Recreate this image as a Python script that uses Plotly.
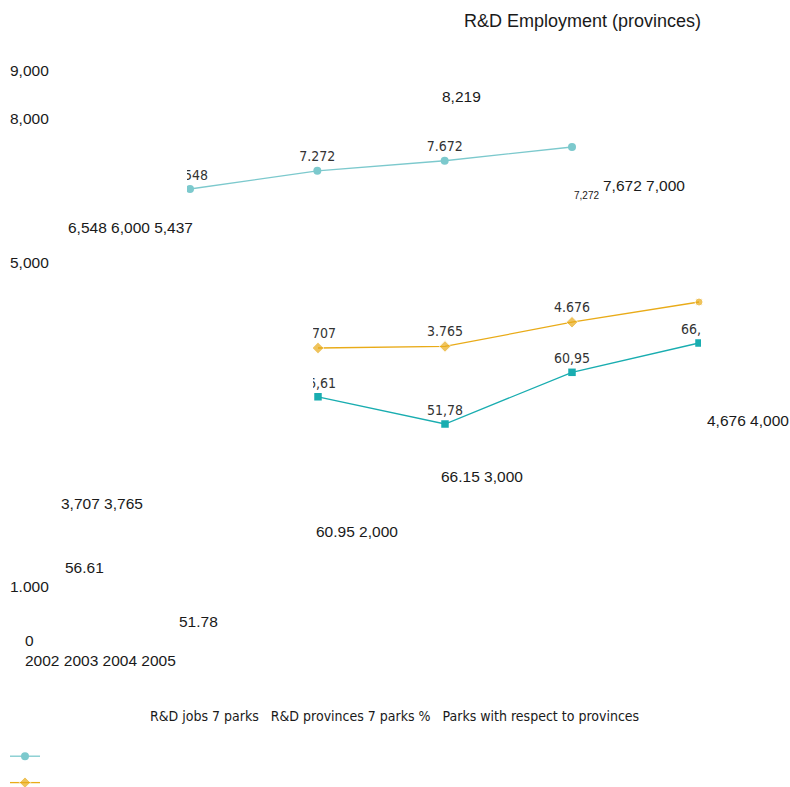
import plotly.graph_objects as go

W, H = 790, 787

# ---- data -------------------------------------------------------------
years = [2002, 2003, 2004, 2005]
jobs_parks = [6548, 7272, 7672, 8219]        # R&D jobs, 7 parks
jobs_provinces = [3707, 3765, 4676, 5437]    # R&D jobs, provinces of the 7 parks
parks_share = [56.61, 51.78, 60.95, 66.15]   # parks with respect to provinces (%)

series_names = ["R&D jobs 7 parks", "R&D provinces 7 parks %",
                "Parks with respect to provinces"]
title_text = "R&D Employment (provinces)"
axis_labels = ["9,000", "8,000", "5,000", "1.000", "0"]
year_labels = ["2002", "2003", "2004", "2005"]
loose_labels = ["8,219", "6,548 6,000 5,437", "7,272", "7,672 7,000",
                "4,676 4,000", "66.15 3,000", "3,707 3,765", "60.95 2,000",
                "56.61", "51.78"]

# ---- layout helpers ---------------------------------------------------
def span(v1, p1, v2, p2, length):
    """Axis range whose ends sit at pixel 0 and `length` when v1->p1, v2->p2."""
    u = (v2 - v1) / (p2 - p1)
    return [v1 - p1 * u, v1 + (length - p1) * u]

# horizontal plot windows (pixels): jobs in parks, share, provinces
win1 = (187, W)
win2 = (313, 701)
win3 = (313, W)

def x_span(win, left_px, right_px):
    return span(years[0], left_px - win[0], years[-1], right_px - win[0], win[1] - win[0])

x1_range = x_span(win1, 190, 572)
x2_range = x_span(win2, 318, 699)
x3_range = x_span(win3, 318, 699)
y1_range = span(jobs_parks[0], H - 189, jobs_parks[-1], H - 147, H)
y2_range = span(jobs_provinces[0], H - 348, jobs_provinces[-1], H - 302, H)
y3_range = span(min(parks_share), H - 424, max(parks_share), H - 343, H)

c_parks = "#7cc9cd"
c_prov = "#e9ab18"
c_share = "#19adb0"
label_font = dict(family="Liberation Sans Narrow, Arial Narrow, DejaVu Sans Condensed, sans-serif",
                  size=14, color="#333333")

# value labels: the last point of the first two series carries none
lbl_int = ["%{y:,}"] * (len(years) - 1) + [""]

fig = go.Figure()

fig.add_trace(go.Scatter(
    x=years, y=jobs_parks, xaxis="x", yaxis="y", name=" ",
    mode="lines+markers+text", texttemplate=lbl_int, textposition="top center",
    textfont=label_font, cliponaxis=True,
    line=dict(color=c_parks, width=1.3),
    marker=dict(symbol="circle", size=8, color=c_parks),
    hovertemplate=series_names[0] + ": %{y:,}<extra></extra>",
))
fig.add_trace(go.Scatter(
    x=years, y=jobs_provinces, xaxis="x3", yaxis="y2", name=" ",
    mode="lines+markers+text", texttemplate=lbl_int, textposition="top center",
    textfont=label_font, cliponaxis=True,
    line=dict(color=c_prov, width=1.3),
    marker=dict(symbol=["diamond", "diamond", "diamond", "circle"], size=[9, 9, 9, 8],
                color=c_prov),
    hovertemplate=series_names[1] + ": %{y:,}<extra></extra>",
))
fig.add_trace(go.Scatter(
    x=years, y=parks_share, xaxis="x2", yaxis="y3", name=" ", showlegend=False,
    mode="lines+markers+text", texttemplate="%{y:,.2f}", textposition="top center",
    textfont=label_font, cliponaxis=True,
    line=dict(color=c_share, width=1.3),
    marker=dict(symbol="square", size=7.5, color=c_share),
    hovertemplate=series_names[2] + ": %{y:,.2f}<extra></extra>",
))

hidden = dict(visible=False, showgrid=False, zeroline=False, fixedrange=True)

# ---- free-standing text ----------------------------------------------
big = dict(family="Liberation Sans, Arial, sans-serif", size=15.5, color="#1a1a1a")
annotations = []

def put(text, px, py, font, anchor="left"):
    annotations.append(dict(text=text, x=px / W, y=1 - py / H, xref="paper", yref="paper",
                            xanchor=anchor, yanchor="middle", showarrow=False,
                            font=font, borderpad=0))

put(title_text, 463, 21, dict(big, size=18))

for txt, py in zip(axis_labels[:4], [70, 119, 262, 586]):
    put(txt, 9, py, big)
put(axis_labels[4], 24, 640, big)
put(" ".join(year_labels), 24, 660, big)

loose_spots = [(441, 96), (67, 227), (573, 195), (602, 186), (706, 421),
               (440, 476), (60, 503), (315, 531), (64, 567), (178, 621)]
for txt, (px, py) in zip(loose_labels, loose_spots):
    put(txt, px, py, dict(big, size=10) if txt == "7,272" else big)

put("   ".join(series_names), 394, 716,
    dict(family="Liberation Sans Narrow, Arial Narrow, DejaVu Sans Condensed, sans-serif",
         size=14, color="#1a1a1a"), anchor="center")

fig.update_layout(
    width=W, height=H,
    margin=dict(l=0, r=0, t=0, b=0, pad=0, autoexpand=False),
    paper_bgcolor="white", plot_bgcolor="rgba(0,0,0,0)",
    separators=",.",
    xaxis=dict(hidden, domain=[win1[0] / W, win1[1] / W], range=x1_range, anchor="y"),
    xaxis2=dict(hidden, domain=[win2[0] / W, win2[1] / W], range=x2_range, anchor="y3"),
    xaxis3=dict(hidden, domain=[win3[0] / W, win3[1] / W], range=x3_range, anchor="y2"),
    yaxis=dict(hidden, domain=[0, 1], range=y1_range, anchor="x"),
    yaxis2=dict(hidden, domain=[0, 1], range=y2_range, anchor="x3"),
    yaxis3=dict(hidden, domain=[0, 1], range=y3_range, anchor="x2"),
    showlegend=True,
    legend=dict(x=5 / W, y=1 - 738 / H, xanchor="left", yanchor="top",
                orientation="v", bgcolor="rgba(0,0,0,0)", borderwidth=0,
                font=dict(size=18), tracegroupgap=0),
    annotations=annotations,
)

fig.write_html("out.html")
